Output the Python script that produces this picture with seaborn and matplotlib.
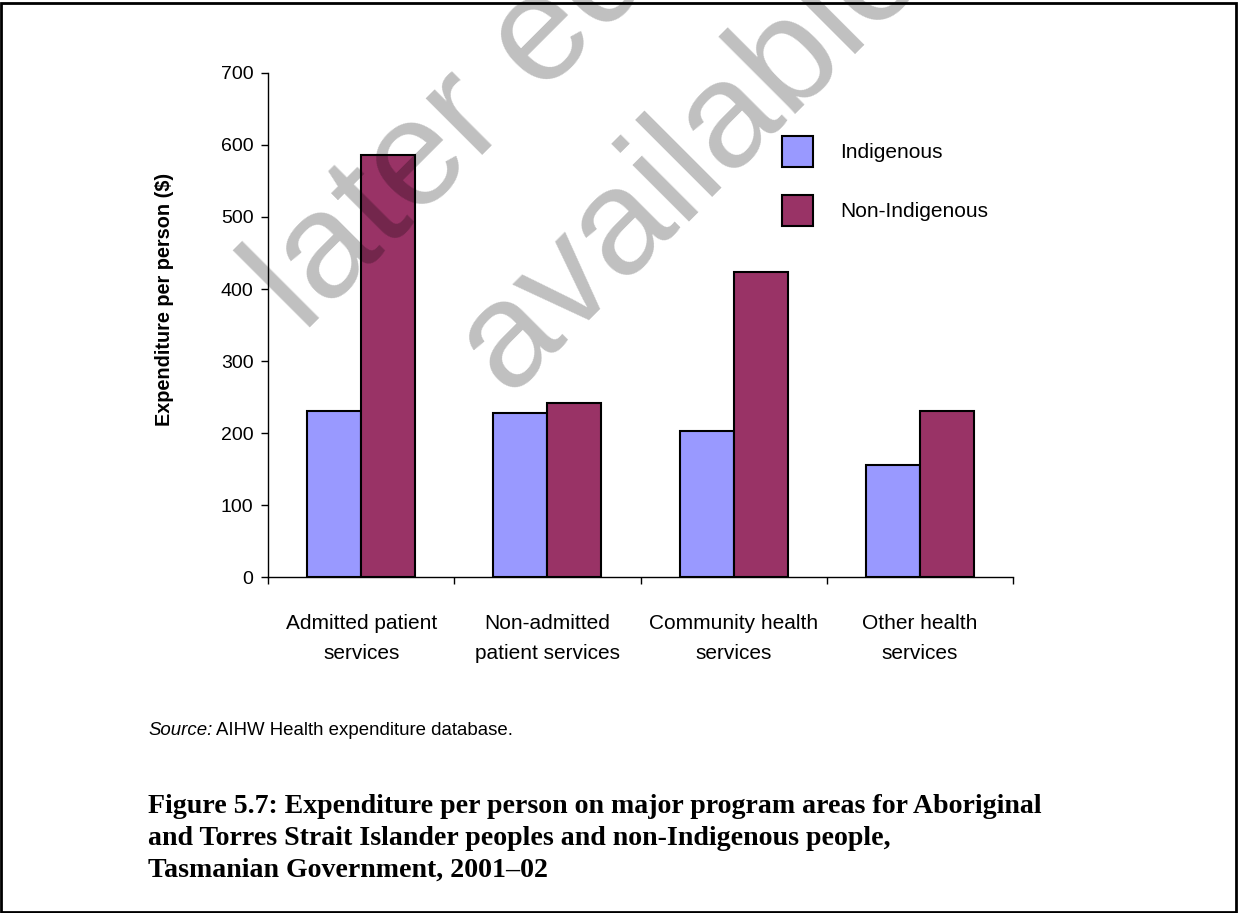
import matplotlib
matplotlib.use("Agg")
import matplotlib.pyplot as plt
from matplotlib.patches import Rectangle
import seaborn as sns
import pandas as pd

categories = ["Admitted patient\nservices", "Non-admitted\npatient services",
              "Community health\nservices", "Other health\nservices"]
indigenous = [231, 228, 203, 156]
non_indigenous = [586, 242, 424, 231]
series_names = ["Indigenous", "Non-Indigenous"]
colors = ["#9999FF", "#993366"]
y_ticks = [0, 100, 200, 300, 400, 500, 600, 700]

df = pd.DataFrame({
    "category": categories * 2,
    "group": [series_names[0]] * 4 + [series_names[1]] * 4,
    "value": indigenous + non_indigenous,
})

sns.set_theme(style="white")
plt.rcParams["font.family"] = ["Liberation Sans", "DejaVu Sans"]
plt.rcParams["text.color"] = "black"
plt.rcParams["axes.labelcolor"] = "black"
plt.rcParams["xtick.color"] = "black"
plt.rcParams["ytick.color"] = "black"

W, H = 1238, 913
fig = plt.figure(figsize=(W / 100, H / 100), dpi=100)
ax = fig.add_axes([268 / W, 1 - 577 / H, (1013 - 268) / W, (577 - 73) / H])

sns.barplot(data=df, x="category", y="value", hue="group", order=categories,
            hue_order=series_names, palette=colors, width=0.58, ax=ax,
            edgecolor="black", linewidth=1.5, saturation=1, errorbar=None)

ax.set_ylim(0, 700)
ax.set_xlim(-0.5, 3.5)
ax.set_yticks(y_ticks)
ax.set_yticklabels([str(t) for t in y_ticks], fontsize=14)
ax.set_xticks(range(4))
ax.set_xticklabels(categories, fontsize=15, linespacing=1.77)
ax.set_xticks([-0.5, 0.5, 1.5, 2.5, 3.5], minor=True)
ax.tick_params(axis="x", which="major", length=0, pad=26.5)
ax.tick_params(axis="x", which="minor", length=5, width=1, direction="out", bottom=True)
ax.tick_params(axis="y", which="major", length=5, width=1, direction="out", left=True, pad=5.5)
ax.set_xlabel("")
ax.set_ylabel("Expenditure per person ($)", fontsize=14.3, fontweight="bold")
ax.yaxis.label.set_rotation_mode("default")
ax.yaxis.label.set_va("center")
ax.yaxis.label.set_ha("center")
ax.yaxis.set_label_coords((165 - 268) / (1013 - 268), (577 - 299) / (577 - 73))
for s in ["top", "right"]:
    ax.spines[s].set_visible(False)
for s in ["left", "bottom"]:
    ax.spines[s].set_color("black")
    ax.spines[s].set_linewidth(1)

handles, labels = ax.get_legend_handles_labels()
ax.legend(handles, labels, frameon=False, fontsize=15, loc="upper left",
          bbox_to_anchor=(763 / W, 1 - 117 / H), bbox_transform=fig.transFigure,
          handlelength=1.52, handleheight=1.92, labelspacing=1.33, handletextpad=1.28,
          borderpad=0.4)

# source line
src = fig.text(148 / W, 1 - 730 / H, "Source:", fontsize=13.4, style="italic", va="center", ha="left")
fig.canvas.draw()
bb = src.get_window_extent()
fig.text((bb.x1 + 4) / W, 1 - 730 / H, "AIHW Health expenditure database.", fontsize=13.4,
         va="center", ha="left")

fig.text(148 / W, 1 - 794 / H,
         "Figure 5.7: Expenditure per person on major program areas for Aboriginal\n"
         "and Torres Strait Islander peoples and non-Indigenous people,\n"
         "Tasmanian Government, 2001\u201302",
         fontsize=20.1, fontweight="bold", family=["Liberation Serif", "DejaVu Serif"],
         va="top", ha="left", linespacing=1.36)

# watermark
wm = dict(fontsize=109, rotation=45, rotation_mode="anchor", ha="left", va="baseline",
          color="black", alpha=0.25, zorder=10)
fig.text(303 / W, 1 - 334 / H, "later editions", **wm)
fig.text(507 / W, 1 - 395 / H, "available", **wm)

fig.patches.append(Rectangle((0.001, 0.001), 0.997, 0.996, transform=fig.transFigure,
                             fill=False, edgecolor="black", linewidth=2, zorder=20))

fig.savefig("out.png", dpi=100)
